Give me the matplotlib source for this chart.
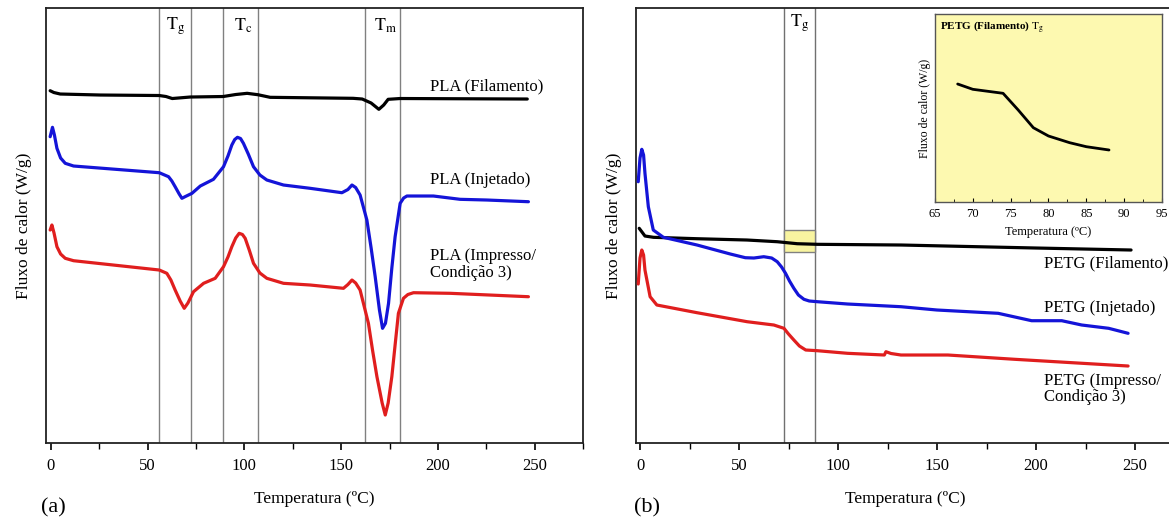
import matplotlib
matplotlib.use("Agg")
import matplotlib.pyplot as plt
from matplotlib.patches import Rectangle
from matplotlib.ticker import MultipleLocator

plt.rcParams['font.family'] = ['Liberation Serif', 'DejaVu Serif']
plt.rcParams['mathtext.fontset'] = 'stix'
plt.rcParams['lines.solid_joinstyle'] = 'round'
plt.rcParams['lines.solid_capstyle'] = 'round'

# ---- (a) PLA curves (temperature in C, heat flow in arbitrary units) ----
pla_fil_T = [-0.4, 1.5, 4.8, 25.5, 56.0, 59.5, 62.7, 72.0, 89.0, 95.5, 101.4, 107, 113.3, 156.2, 160.9,
             165.5, 169.5, 172.0, 174.3, 180.5, 246.2]
pla_fil_q = [352.3, 350.5, 349, 348, 347.5, 346.5, 344.5, 346, 346.5, 348.5, 349.7, 348.3, 345.7, 344.7, 344,
             340, 333.7, 338, 343.7, 344.5, 344]

pla_inj_T = [-0.4, 0.8, 1.8, 3.1, 5.0, 7.4, 11.7, 56.0, 60.8, 62.5, 64.2, 66.3, 67.7, 69.5, 72.9, 77.2,
             84.0, 89.2, 91.5, 93.5, 95.0, 96.4, 98.0, 99.5, 102.0, 104.7, 108, 111.6, 120.2, 134.0,
             150.4, 153.5, 155.6, 157.5, 159.8, 163.3, 165.5, 167.6, 169.8, 171.4, 172.9, 174.5,
             176.2, 177.9, 180.5, 182.3, 184.0, 197.7, 211.5, 225.3, 246.8]
pla_inj_q = [306.3, 315.7, 308, 294.7, 285, 279.7, 277, 270.3, 266.3, 262, 256.3, 249, 244.7, 246.5, 249.7, 257,
             263.7, 276.3, 287, 298, 303.5, 305.7, 304.5, 299.7, 289, 276.3, 268, 263, 258, 254.7,
             250.3, 253.5, 258, 255.5, 248, 223, 195, 166.3, 133, 114.7, 119.7, 139.7,
             175, 206.3, 239.7, 245, 247, 247, 243.7, 243, 241.3]

pla_imp_T = [-0.4, 0.5, 1.6, 3.1, 5.0, 7.4, 11.7, 56.0, 59.9, 62.0, 64.2, 66.8, 68.9, 70.8, 73.7, 78.9,
             84.9, 89.2, 91.5, 93.5, 95.5, 97.3, 99.0, 100.4, 102.5, 104.7, 108, 111.6, 120.2, 134.0,
             151.2, 153.5, 155.6, 157.5, 159.8, 164.1, 166.3, 168.5, 171.2, 172.8, 174.3, 176.2,
             178.0, 179.6, 182.2, 184.5, 187.4, 206.4, 246.8]
pla_imp_q = [213, 218, 210, 196.3, 189, 184.7, 182.3, 173, 169.7, 163, 153, 142, 134.7, 140, 151.3, 159.7,
             164.7, 176.3, 186, 196.3, 205, 209.7, 208.5, 204.7, 193, 179.7, 170, 164.7, 159.7, 158,
             154.7, 158.5, 163, 160, 153, 119.7, 92, 66.3, 40, 28, 40, 66.3,
             100, 129.7, 144.7, 148.5, 150.3, 149.7, 146.3]

pla_lines = [56, 72.5, 89, 107, 162.5, 180.5]

# ---- (b) PETG curves ----
petg_fil_T = [-0.4, 2.5, 6.8, 28.7, 54.0, 69.3, 79.4, 89.6, 131.9, 200, 248]
petg_fil_q = [214.7, 207, 205.7, 204.3, 203, 201.3, 199.3, 198.7, 198, 195, 193]

petg_inj_T = [-0.9, 0.0, 0.9, 1.8, 2.5, 4.2, 6.7, 11.8, 28.8, 45.6, 53.2, 57.5, 62.5, 66.5, 69.3, 71.5,
              73.5, 75.5, 77.7, 80.0, 82.8, 85.5, 89.6, 104.8, 131.8, 150, 180.9, 197.8, 213, 223.1,
              236.7, 246.5]
petg_inj_q = [261.3, 285, 293.7, 288, 269.7, 236.3, 213, 205.7, 198, 189, 185.3, 185, 186.3, 185, 181.3, 176,
              169.7, 162, 154.7, 148, 143.7, 142, 141.3, 139, 136.3, 133, 129.7, 122.3, 122.3, 118,
              114.7, 109.7]

petg_imp_T = [-0.9, 0.0, 0.9, 1.8, 2.5, 5.1, 8.5, 28.8, 54.1, 67.6, 72.7, 75.0, 77.7, 80.5, 83.7, 89.6,
              104.8, 123.4, 124.2, 126.8, 131.8, 155.5, 189.3, 246.5]
petg_imp_q = [159, 185, 193, 188, 173, 146.3, 138, 130.3, 121.3, 118, 114.7, 109, 103, 97, 93, 92.3,
              89.7, 88, 91.3, 89.5, 88, 88, 83.7, 77]

petg_lines = [72.7, 88.5]

# inset: PETG filament around Tg
inset_T = [68, 70, 74, 76, 78, 80, 82.8, 85, 88]
inset_q = [118, 112.7, 108.7, 92, 74.3, 66, 59.3, 55.3, 52]

fig = plt.figure(figsize=(11.69, 5.21), dpi=100)

ax1 = fig.add_axes([0.0391, 0.1497, 0.4596, 0.8349])
ax2 = fig.add_axes([0.5441, 0.1497, 0.4607, 0.8349])

lw = 2.3
blue = '#1414d8'
red = '#e01e1e'

# panel (a)
for x in pla_lines:
    ax1.axvline(x, color='#808080', lw=1.0)
ax1.plot(pla_fil_T, pla_fil_q, color='black', lw=lw)
ax1.plot(pla_inj_T, pla_inj_q, color=blue, lw=lw)
ax1.plot(pla_imp_T, pla_imp_q, color=red, lw=lw)
ax1.set_xlim(-2.7, 275)
ax1.set_ylim(0, 435)
ax1.text(196, 357, 'PLA (Filamento)', fontsize=12, va='center')
ax1.text(196, 263, 'PLA (Injetado)', fontsize=12, va='center')
ax1.text(196, 178.5, 'PLA (Impresso/\nCondição 3)', fontsize=12, va='center', linespacing=1.05)
ax1.text(64.5, 0.958, r'$\mathrm{T_g}$', transform=ax1.get_xaxis_transform(), ha='center', va='center', fontsize=13)
ax1.text(99.5, 0.958, r'$\mathrm{T_c}$', transform=ax1.get_xaxis_transform(), ha='center', va='center', fontsize=13)
ax1.text(173, 0.958, r'$\mathrm{T_m}$', transform=ax1.get_xaxis_transform(), ha='center', va='center', fontsize=13)

# panel (b)
for x in petg_lines:
    ax2.axvline(x, color='#707070', lw=1.0)
ax2.add_patch(Rectangle((72.7, 191.3), 88.4 - 72.7, 213 - 191.3, facecolor='#f8f4a0', edgecolor='#808080', lw=1.0, zorder=2))
ax2.plot(petg_fil_T, petg_fil_q, color='black', lw=lw, zorder=3)
ax2.plot(petg_inj_T, petg_inj_q, color=blue, lw=lw, zorder=3)
ax2.plot(petg_imp_T, petg_imp_q, color=red, lw=lw, zorder=3)
ax2.set_xlim(-2, 270)
ax2.set_ylim(0, 435)
ax2.text(204, 180, 'PETG (Filamento)', fontsize=12, va='center')
ax2.text(204, 135, 'PETG (Injetado)', fontsize=12, va='center')
ax2.text(204, 54, 'PETG (Impresso/\nCondição 3)', fontsize=12, va='center', linespacing=1.05)
ax2.text(80.6, 0.965, r'$\mathrm{T_g}$', transform=ax2.get_xaxis_transform(), ha='center', va='center', fontsize=13)

for ax in (ax1, ax2):
    ax.set_yticks([])
    ax.xaxis.set_major_locator(MultipleLocator(50))
    ax.xaxis.set_minor_locator(MultipleLocator(25))
    ax.tick_params(axis='x', which='major', direction='out', length=5, width=1.2, labelsize=12, pad=6)
    ax.tick_params(axis='x', which='minor', direction='out', length=4, width=1.0)
    ax.set_xlabel('Temperatura (ºC)', fontsize=12.5, labelpad=12)
    ax.set_ylabel('Fluxo de calor (W/g)', fontsize=12.5, labelpad=10)
    for s in ax.spines.values():
        s.set_linewidth(1.3)
        s.set_color('#222222')

fig.text(53 / 1169, 1 - 508 / 521, '(a)', fontsize=16, ha='center', va='center')
fig.text(647 / 1169, 1 - 508 / 521, '(b)', fontsize=16, ha='center', va='center')

# inset
axin = fig.add_axes([0.7998, 0.6123, 0.1942, 0.3608])
axin.set_facecolor('#fdf9b0')
axin.plot(inset_T, inset_q, color='black', lw=2.0)
axin.set_xlim(65, 95)
axin.set_ylim(0, 188)
axin.set_yticks([])
axin.xaxis.set_major_locator(MultipleLocator(5))
axin.xaxis.set_minor_locator(MultipleLocator(2.5))
axin.tick_params(axis='x', which='major', direction='in', length=3, labelsize=9, pad=4)
axin.tick_params(axis='x', which='minor', direction='in', length=2)
axin.set_xlabel('Temperatura (ºC)', fontsize=9, labelpad=5)
axin.set_ylabel('Fluxo de calor (W/g)', fontsize=8.5, labelpad=3)
axin.text(0.02, 0.93, r'PETG (Filamento) $\mathrm{T_g}$', transform=axin.transAxes, fontsize=8,
          fontweight='bold', va='center')
for s in axin.spines.values():
    s.set_linewidth(1.0)
    s.set_color('#555555')

fig.savefig('out.png', dpi=100)
